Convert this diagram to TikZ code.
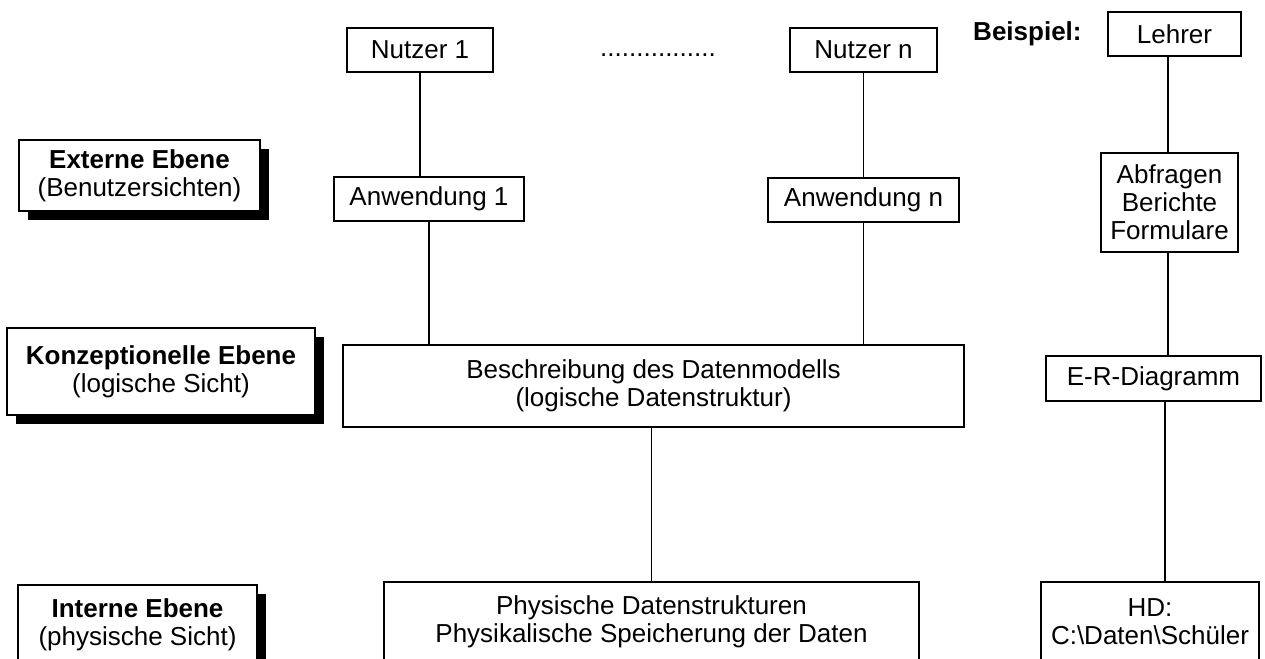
\documentclass[tikz,border=0pt]{standalone}
\usepackage{fontspec}
\setmainfont{Liberation Sans}
\usetikzlibrary{shadows}
\begin{document}
\begin{tikzpicture}[x=0.5pt,y=-0.5pt,
  txt/.style={font=\fontsize{13}{14}\selectfont},
  box/.style={txt, draw, line width=0.6pt, fill=white, align=center, inner sep=0pt},
  lbl/.style={box, drop shadow={shadow xshift=4.5pt, shadow yshift=-4.5pt, fill=black, opacity=1}},
  link/.style={line width=0.6pt}]
\useasboundingbox (0,0) rectangle (1265,659);
\clip (0,0) rectangle (1265,659);
% users
\node[box, minimum width=73pt, minimum height=22pt] (n1) at (420,50) {Nutzer 1};
\node[txt, inner sep=0pt] (dots) at (658,55) {................};
\node[box, minimum width=73.5pt, minimum height=22pt] (nn) at (863.5,50) {Nutzer n};
\node[box, minimum width=95pt, minimum height=22pt] (a1) at (429,199) {Anwendung 1};
\node[box, minimum width=95.5pt, minimum height=22pt] (an) at (863.5,200) {Anwendung n};
\node[box, minimum width=310.5pt, minimum height=41pt] (b) at (653.5,386) {Beschreibung des Datenmodells\\(logische Datenstruktur)};
\node[box, minimum width=267.5pt, minimum height=40pt] (p) at (651.5,622) {Physische Datenstrukturen\\Physikalische Speicherung der Daten};
% level labels
\node[lbl, minimum width=120.5pt, minimum height=35.5pt] (ext) at (139.5,175.5) {\textbf{Externe Ebene}\\(Benutzersichten)};
\node[lbl, minimum width=154pt, minimum height=43.5pt] (konz) at (161,371.5) {\textbf{Konzeptionelle Ebene}\\(logische Sicht)};
\node[lbl, minimum width=119.5pt, minimum height=40pt] (int) at (137.5,625) {\textbf{Interne Ebene}\\(physische Sicht)};
% example
\node[txt, font=\fontsize{13}{14}\selectfont\bfseries, anchor=east, inner sep=0pt] (bsp) at (1082,34) {Beispiel:};
\node[box, minimum width=66.5pt, minimum height=22pt] (le) at (1174.5,34) {Lehrer};
\node[box, minimum width=68.5pt, minimum height=49.5pt] (ab) at (1169.5,202.5) {Abfragen\\Berichte\\Formulare};
\node[box, minimum width=107.5pt, minimum height=22.5pt] (er) at (1153.5,378.5) {E-R-Diagramm};
\node[box, minimum width=109pt, minimum height=40pt] (hd) at (1150,622) {HD:\\C:\textbackslash Daten\textbackslash Schüler};
\coordinate (sp) at (1168,0);
\coordinate (sq) at (1165,0);
% connectors
\draw[link] (n1.south) -- (n1.south |- a1.north);
\draw[link] (a1.south) -- (a1.south |- b.north);
\draw[link] (nn.south) -- (nn.south |- an.north);
\draw[link] (an.south) -- (an.south |- b.north);
\draw[link] (p.north |- b.south) -- (p.north);
\draw[link] (le.south -| sp) -- (ab.north -| sp);
\draw[link] (ab.south -| sp) -- (er.north -| sp);
\draw[link] (er.south -| sq) -- (hd.north -| sq);
\end{tikzpicture}
\end{document}
